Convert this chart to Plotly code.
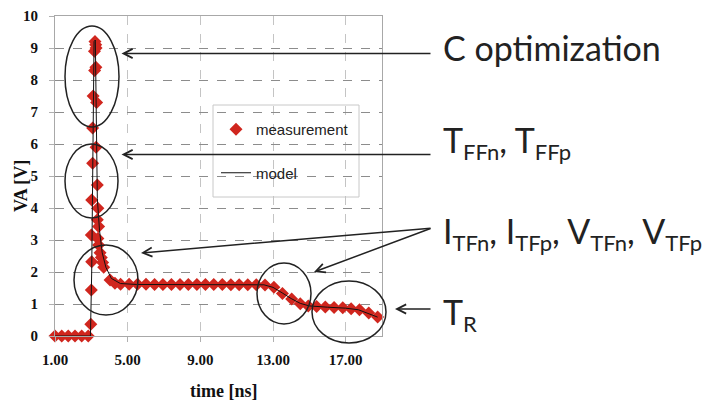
import plotly.graph_objects as go

# measured VA transient (time in ns, voltage in V)
meas_t = [1.00, 1.37, 1.73, 2.10, 2.47, 2.83,
          2.97, 3.00, 3.02, 3.00, 3.02, 3.07, 3.07, 3.10, 3.18, 3.17, 3.20,
          3.24, 3.26, 3.25, 3.29, 3.26, 3.33, 3.36, 3.33, 3.40, 3.36, 3.40,
          3.48, 3.55, 3.62, 3.68, 4.03, 4.30,
          4.61, 5.08, 5.54, 6.01, 6.48, 6.94, 7.41, 7.88, 8.34, 8.81, 9.28,
          9.74, 10.21, 10.68, 11.14, 11.61, 12.08, 12.56,
          13.05, 13.52, 14.03, 14.50, 14.94, 15.40, 15.88, 16.36, 16.84,
          17.30, 17.76, 18.27, 18.76]
meas_v = [0, 0, 0, 0, 0, 0,
          0.37, 1.44, 2.32, 3.16, 4.25, 5.40, 6.50, 7.50, 8.30, 8.90, 9.20,
          9.10, 9.00, 8.40, 7.30, 5.90, 4.72, 3.99, 3.63, 3.42, 3.05, 2.84,
          2.60, 2.45, 2.30, 2.15, 1.75, 1.65,
          1.62, 1.62, 1.62, 1.62, 1.61, 1.61, 1.61, 1.61, 1.61, 1.61, 1.61,
          1.61, 1.61, 1.60, 1.60, 1.60, 1.60, 1.59,
          1.52, 1.33, 1.16, 1.01, 0.94, 0.92, 0.91, 0.89, 0.88,
          0.85, 0.82, 0.72, 0.59]

# model curve
model_t = [1.0, 2.95, 3.02, 3.10, 3.15, 3.22, 3.25, 3.28, 3.33, 3.45, 3.6, 3.8,
           4.1, 4.6, 5.5, 12.5, 13.0, 13.5, 14.0, 14.5, 15.0, 16.0, 17.0,
           17.7, 18.2, 18.76]
model_v = [0, 0, 2.0, 6.5, 9.2, 9.25, 8.0, 6.0, 4.3, 3.3, 2.6, 2.15,
           1.8, 1.64, 1.61, 1.6, 1.52, 1.35, 1.17, 1.02, 0.94, 0.9, 0.87,
           0.82, 0.72, 0.59]

x_ticks = [1, 5, 9, 13, 17]

# page adds an 8px body margin, so the figure is laid out 8px up/left
OFF = 8
# plot area as seen in the picture: x 55..382, y 16..336
L, R, T, B = 55, 382, 16, 336


def px(x):
    return (x - L) / (R - L)


def py(y):
    return (B - y) / (B - T)


fig = go.Figure()

fig.add_trace(go.Scatter(
    x=meas_t, y=meas_v, mode='markers', name='measurement',
    marker=dict(symbol='diamond', size=10, color='#d0261e'),
    cliponaxis=False, legendgroup='a'
))
fig.add_trace(go.Scatter(
    x=model_t, y=model_v, mode='lines', name='model',
    line=dict(color='#111111', width=1),
    cliponaxis=False, legendgroup='b'
))

shapes = []
# legend box
shapes.append(dict(type='rect', xref='paper', yref='paper', layer='between',
                   x0=px(213), x1=px(359), y0=py(197), y1=py(105),
                   fillcolor='white', line=dict(color='#c8c8c8', width=1)))
# ellipses around regions
ellipses = [(65, 26, 119, 127), (65, 144, 118, 218), (74, 245, 138, 315),
            (257, 263, 311, 324), (312, 281, 386, 343)]
for x0, y0, x1, y1 in ellipses:
    shapes.append(dict(type='circle', xref='paper', yref='paper',
                       x0=px(x0), x1=px(x1), y0=py(y1), y1=py(y0),
                       line=dict(color='#222222', width=1.5)))

annotations = []
# arrows (head, tail) in pixels
arrows = [((121.5, 53.5), (432, 53.5)),
          ((121.5, 154.5), (432, 154.5)),
          ((141, 253), (432, 228)),
          ((314, 272), (432, 228)),
          ((395, 309), (432, 309))]
for (hx, hy), (tx, ty) in arrows:
    annotations.append(dict(x=px(hx), y=py(hy), ax=tx - hx, ay=ty - hy,
                            xref='paper', yref='paper', axref='pixel', ayref='pixel',
                            text='', showarrow=True, arrowhead=5, arrowsize=1.2,
                            arrowwidth=1.5, arrowcolor='#222222'))


def sub(s):
    return '<sub><span style="font-size:22px">' + s + '</span></sub>'


big = dict(family='Lato', size=34, color='#222222')
labels = [('C optimization', 48),
          ('T' + sub('FFn') + ', T' + sub('FFp'), 142),
          ('I' + sub('TFn') + ', I' + sub('TFp') + ', V' + sub('TFn') + ', V' + sub('TFp'), 233),
          ('T' + sub('R'), 314)]
for txt, yc in labels:
    annotations.append(dict(x=px(441), y=py(yc), xref='paper', yref='paper',
                            text=txt, showarrow=False, xanchor='left', yanchor='middle',
                            font=big))

axis_font = dict(family='Liberation Serif', size=18, color='#111111', weight='bold')
annotations.append(dict(x=px(223), y=py(391), xref='paper', yref='paper',
                        text='time [ns]', showarrow=False, font=axis_font,
                        xanchor='center', yanchor='middle'))
annotations.append(dict(x=px(21), y=py(186), xref='paper', yref='paper',
                        text='VA [V]', showarrow=False, textangle=-90, font=axis_font,
                        xanchor='center', yanchor='middle'))

tick_font = dict(family='Liberation Serif', size=15, color='#111111', weight='bold')

fig.update_layout(
    width=712, height=401,
    margin=dict(l=L - OFF, r=712 - R + OFF, t=T - OFF, b=401 - B + OFF),
    plot_bgcolor='white', paper_bgcolor='white',
    shapes=shapes, annotations=annotations,
    showlegend=True,
    legend=dict(x=px(216), y=py(113), xanchor='left', yanchor='top',
                bgcolor='rgba(0,0,0,0)', borderwidth=0, tracegroupgap=21,
                font=dict(family='Liberation Sans', size=15, color='#222222')),
    xaxis=dict(range=[1, 19], tickvals=x_ticks, tickformat='.2f',
               showgrid=True, gridcolor='#c4c4c4', griddash='dash', gridwidth=1,
               showline=True, linecolor='#a8a8a8', mirror=True, linewidth=1,
               ticks='outside', ticklen=5, tickcolor='#b0b0b0',
               ticklabelstandoff=5, tickfont=tick_font, zeroline=False,
               automargin=False),
    yaxis=dict(range=[0, 10], dtick=1,
               showgrid=True, gridcolor='#8c8c8c', griddash='dash', gridwidth=1,
               showline=True, linecolor='#a8a8a8', mirror=True, linewidth=1,
               ticks='outside', ticklen=5, tickcolor='#b0b0b0',
               ticklabelstandoff=8, tickfont=tick_font, zeroline=False,
               automargin=False),
)

fig.write_html("out.html")
